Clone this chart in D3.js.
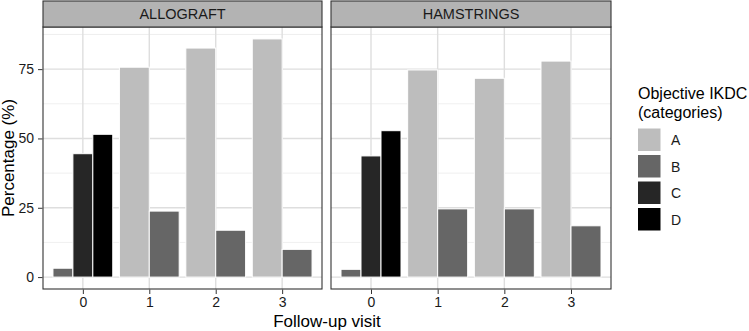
<!DOCTYPE html>
<html lang="en">
<head>
<meta charset="utf-8" />
<title>Objective IKDC by follow-up visit</title>
<style>
  body { margin: 0; background: #fff; }
  svg { display: block; font-family: "Liberation Sans", Arial, sans-serif; }
  .tick line { stroke: #333; }
</style>
</head>
<body>
<script src="https://d3js.org/d3.v7.min.js"></script>
<script>
// data
const facets = ["ALLOGRAFT", "HAMSTRINGS"];
const visits = ["0", "1", "2", "3"];
const categories = ["A", "B", "C", "D"];
const colours = ["#bdbdbd", "#666666", "#262626", "#000000"];
const yTicks = [0, 25, 50, 75];

// percentages per category, one entry per visit (null = no bar)
const allograftA = [null, 75.7, 82.6, 85.9];
const allograftB = [3.2, 23.8, 16.9, 10.0];
const allograftC = [44.5, null, null, null];
const allograftD = [51.5, null, null, null];
const hamstringsA = [null, 74.7, 71.7, 77.9];
const hamstringsB = [2.8, 24.6, 24.6, 18.5];
const hamstringsC = [43.7, null, null, null];
const hamstringsD = [52.8, null, null, null];

const seriesByFacet = {
  ALLOGRAFT: [allograftA, allograftB, allograftC, allograftD],
  HAMSTRINGS: [hamstringsA, hamstringsB, hamstringsC, hamstringsD]
};

const W = 749, H = 331;
const panelTop = 27, panelBottom = 289, stripTop = 1;
const panels = [{ x0: 43, x1: 322 }, { x0: 331, x1: 611 }];

const svg = d3.select("body").append("svg")
  .attr("width", W).attr("height", H);

// long table built from the arrays
const rows = [];
facets.forEach(f => {
  seriesByFacet[f].forEach((vals, ci) => {
    vals.forEach((v, vi) => {
      if (v != null) rows.push({ facet: f, visit: visits[vi], cat: categories[ci], value: v });
    });
  });
});

const maxY = d3.max(rows, d => d.value);
const y = d3.scaleLinear()
  .domain([-maxY * 0.05, maxY * 1.05])
  .range([panelBottom, panelTop]);

const fill = d3.scaleOrdinal().domain(categories).range(colours);

facets.forEach((f, fi) => {
  const p = panels[fi];
  const x = d3.scaleLinear().domain([-0.6, visits.length - 0.4]).range([p.x0, p.x1]);
  const g = svg.append("g");

  // grid
  const minor = d3.range(12.5, y.domain()[1], 25);
  g.selectAll(".minor").data(minor).enter().append("line")
    .attr("x1", p.x0).attr("x2", p.x1)
    .attr("y1", d => y(d)).attr("y2", d => y(d))
    .attr("stroke", "#ebebeb").attr("stroke-width", 0.8);
  g.selectAll(".major").data(yTicks).enter().append("line")
    .attr("x1", p.x0).attr("x2", p.x1)
    .attr("y1", d => y(d)).attr("y2", d => y(d))
    .attr("stroke", "#dedede").attr("stroke-width", 1.4);
  g.selectAll(".vmajor").data(visits).enter().append("line")
    .attr("x1", (d, i) => x(i)).attr("x2", (d, i) => x(i))
    .attr("y1", panelTop).attr("y2", panelBottom)
    .attr("stroke", "#dedede").attr("stroke-width", 1.4);

  // bars, dodged inside each visit
  visits.forEach((v, vi) => {
    const sub = rows.filter(d => d.facet === f && d.visit === v);
    const inner = d3.scaleBand()
      .domain(sub.map(d => d.cat))
      .range([x(vi - 0.45), x(vi + 0.45)]);
    g.selectAll(null).data(sub).enter().append("rect")
      .attr("x", d => inner(d.cat))
      .attr("y", d => y(d.value))
      .attr("width", inner.bandwidth())
      .attr("height", d => y(0) - y(d.value))
      .attr("fill", d => fill(d.cat))
      .attr("stroke", "#fff")
      .attr("stroke-width", 1);
  });

  // panel border
  g.append("rect")
    .attr("x", p.x0).attr("y", panelTop)
    .attr("width", p.x1 - p.x0).attr("height", panelBottom - panelTop)
    .attr("fill", "none").attr("stroke", "#333").attr("stroke-width", 1.1);

  // strip
  g.append("rect")
    .attr("x", p.x0).attr("y", stripTop)
    .attr("width", p.x1 - p.x0).attr("height", panelTop - stripTop)
    .attr("fill", "#b3b3b3").attr("stroke", "#333").attr("stroke-width", 1.1);
  g.append("text")
    .attr("x", (p.x0 + p.x1) / 2).attr("y", (stripTop + panelTop) / 2 + 5)
    .attr("text-anchor", "middle")
    .attr("font-size", 14.5).attr("fill", "#1a1a1a")
    .text(f);

  // x axis
  const xAxis = d3.axisBottom(x)
    .tickValues(d3.range(visits.length))
    .tickFormat(i => visits[i])
    .tickSize(4.5).tickPadding(3);
  svg.append("g")
    .attr("transform", "translate(0," + (panelBottom + 0.5) + ")")
    .call(xAxis)
    .call(a => a.select(".domain").remove());

  // y axis on the first panel only
  if (fi === 0) {
    const yAxis = d3.axisLeft(y).tickValues(yTicks).tickSize(4.5).tickPadding(4);
    svg.append("g")
      .attr("transform", "translate(" + (p.x0 - 0.5) + ",0)")
      .call(yAxis)
      .call(a => a.select(".domain").remove());
  }
});

svg.selectAll(".tick text")
  .attr("font-size", 14).attr("fill", "#1a1a1a")
  .style("font-family", "'Liberation Sans', Arial, sans-serif");

// axis titles
svg.append("text")
  .attr("x", (panels[0].x0 + panels[1].x1) / 2).attr("y", 327)
  .attr("text-anchor", "middle").attr("font-size", 17).attr("fill", "#000")
  .text("Follow-up visit");
svg.append("text")
  .attr("transform", "translate(14," + ((panelTop + panelBottom) / 2) + ") rotate(-90)")
  .attr("text-anchor", "middle").attr("font-size", 17).attr("fill", "#000")
  .text("Percentage (%)");

// legend
const lg = svg.append("g").attr("transform", "translate(638,0)");
lg.append("text").attr("x", 0).attr("y", 99)
  .attr("font-size", 16).text("Objective IKDC");
lg.append("text").attr("x", 0).attr("y", 117.5)
  .attr("font-size", 16).text("(categories)");
const keys = lg.selectAll(".key").data(categories).enter().append("g")
  .attr("transform", (d, i) => "translate(0," + (128.5 + i * 26.5) + ")");
keys.append("rect")
  .attr("width", 22.5).attr("height", 22.5)
  .attr("fill", d => fill(d));
keys.append("text")
  .attr("x", 33).attr("y", 16.5)
  .attr("font-size", 14).attr("fill", "#1a1a1a")
  .text(d => d);
</script>
</body>
</html>
